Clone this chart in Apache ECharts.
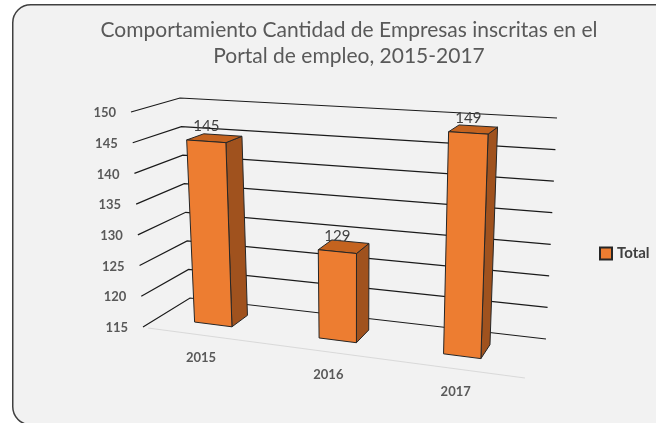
<!DOCTYPE html>
<html>
<head>
<meta charset="utf-8">
<script src="https://cdn.jsdelivr.net/npm/echarts@6.0.0/dist/echarts.min.js"></script>
<style>
  html, body { margin: 0; padding: 0; background: #ffffff; }
  #chart { width: 656px; height: 423px; }
</style>
</head>
<body>
<div id="chart"></div>
<script>
// Data
var years = ['2015', '2016', '2017'];
var totals = [145, 129, 149];
var yTicks = [115, 120, 125, 130, 135, 140, 145, 150];

var FONT = 'Lato';
var ORANGE = '#ED7D31';

// Screen corners of the 3D box (front / back wall, bottom / top)
var BOX = {
  f00: [143, 327], f10: [525, 378], f01: [131, 112], f11: [535, 137],
  b00: [190, 298], b10: [546, 339], b01: [180, 98], b11: [557, 118]
};

function lerp(a, b, t) {
  return [a[0] + (b[0] - a[0]) * t, a[1] + (b[1] - a[1]) * t];
}

// u: along categories, v: along values, w: depth (0 front, 1 back)
function project(u, v, w) {
  var f0 = lerp(BOX.f00, BOX.f10, u), f1 = lerp(BOX.f01, BOX.f11, u);
  var b0 = lerp(BOX.b00, BOX.b10, u), b1 = lerp(BOX.b01, BOX.b11, u);
  return lerp(lerp(f0, b0, w), lerp(f1, b1, w), v);
}

// grid pixel position -> unit box coordinates
function toUV(params, api, x, y) {
  var cs = params.coordSys;
  var p = api.coord([x, y]);
  return [(p[0] - cs.x) / cs.width, (cs.y + cs.height - p[1]) / cs.height];
}

function renderGrid(params, api) {
  var uv = toUV(params, api, 0, api.value(1));
  var v = uv[1];
  var a = project(0, v, 0), b = project(0, v, 1), c = project(1, v, 1);
  var children = [{
    type: 'polyline',
    shape: { points: [a, b, c] },
    style: { stroke: '#1a1a1a', lineWidth: 1.2, fill: null }
  }, {
    type: 'text',
    x: a[0] - 15, y: a[1] + 1,
    style: {
      text: String(api.value(1)), align: 'right', verticalAlign: 'middle',
      fill: '#595959', fontSize: 13, fontWeight: 'bold', fontFamily: FONT
    }
  }];
  if (params.dataIndex === 0) {
    children.unshift({
      type: 'line',
      shape: { x1: a[0] + 5, y1: a[1] + 1, x2: project(1, 0, 0)[0], y2: project(1, 0, 0)[1] },
      style: { stroke: '#d9d9d9', lineWidth: 1.2 }
    });
  }
  return { type: 'group', children: children };
}

function renderBar(params, api) {
  var cs = params.coordSys;
  var uv = toUV(params, api, api.value(0), api.value(1));
  var half = api.size([1, 0])[0] / cs.width * 0.15;
  var uc = uv[0] - 0.02, v = uv[1];
  var uL = uc - half, uR = uc + half;
  var w0 = 0.33, w1 = 0.7;
  var edge = { stroke: '#262626', lineWidth: 1 };
  function poly(pts, fill) {
    return { type: 'polygon', shape: { points: pts }, style: Object.assign({ fill: fill }, edge) };
  }
  var side = poly([project(uR, 0, w0), project(uR, 0, w1), project(uR, v, w1), project(uR, v, w0)], '#A0521E');
  var top = poly([project(uL, v, w0), project(uR, v, w0), project(uR, v, w1), project(uL, v, w1)], '#C4631F');
  var front = poly([project(uL, 0, w0), project(uR, 0, w0), project(uR, v, w0), project(uL, v, w0)], ORANGE);
  var lab = project(uc, v, w0);
  var cat = project(uc, 0, 0);
  return {
    type: 'group',
    children: [side, top, front, {
      type: 'text', x: lab[0], y: lab[1] - 15,
      style: {
        text: String(api.value(1)), align: 'center', verticalAlign: 'middle',
        fill: '#404040', fontSize: 15, fontFamily: FONT
      }
    }, {
      type: 'text', x: cat[0] + 2, y: cat[1] + 23,
      style: {
        text: years[api.value(0)], align: 'center', verticalAlign: 'middle',
        fill: '#595959', fontSize: 13, fontWeight: 'bold', fontFamily: FONT
      }
    }]
  };
}

var chart = echarts.init(document.getElementById('chart'), null, { renderer: 'canvas' });

chart.setOption({
  backgroundColor: '#ffffff',
  animation: false,
  graphic: [{
    type: 'rect', left: 12, top: 4, z: -10, silent: true,
    shape: { width: 680, height: 420, r: 18 },
    style: { fill: '#f2f2f2', stroke: '#404040', lineWidth: 1.5 }
  }],
  title: {
    text: 'Comportamiento Cantidad de Empresas inscritas en el\nPortal de empleo, 2015-2017',
    left: 344, top: 12, textAlign: 'center',
    textStyle: { fontSize: 21, fontWeight: 'normal', color: '#595959', fontFamily: FONT, lineHeight: 26 }
  },
  legend: {
    left: 594, top: 241, itemWidth: 12, itemHeight: 12, itemGap: 4, selectedMode: false,
    data: [{ name: 'Total', icon: 'rect' }],
    textStyle: { fontSize: 15, fontWeight: 'bold', color: '#404040', fontFamily: FONT }
  },
  grid: { left: 100, top: 100, width: 300, height: 200 },
  xAxis: { type: 'category', data: years, show: false },
  yAxis: { type: 'value', min: 115, max: 150, interval: 5, show: false },
  series: [{
    name: 'grid',
    type: 'custom',
    z: 2,
    silent: true,
    renderItem: renderGrid,
    data: yTicks.map(function (t) { return [0, t]; })
  }, {
    name: 'Total',
    type: 'custom',
    z: 3,
    renderItem: renderBar,
    itemStyle: { color: ORANGE, borderColor: '#262626', borderWidth: 1 },
    data: totals.map(function (t, i) { return [i, t]; })
  }]
});
</script>
</body>
</html>
